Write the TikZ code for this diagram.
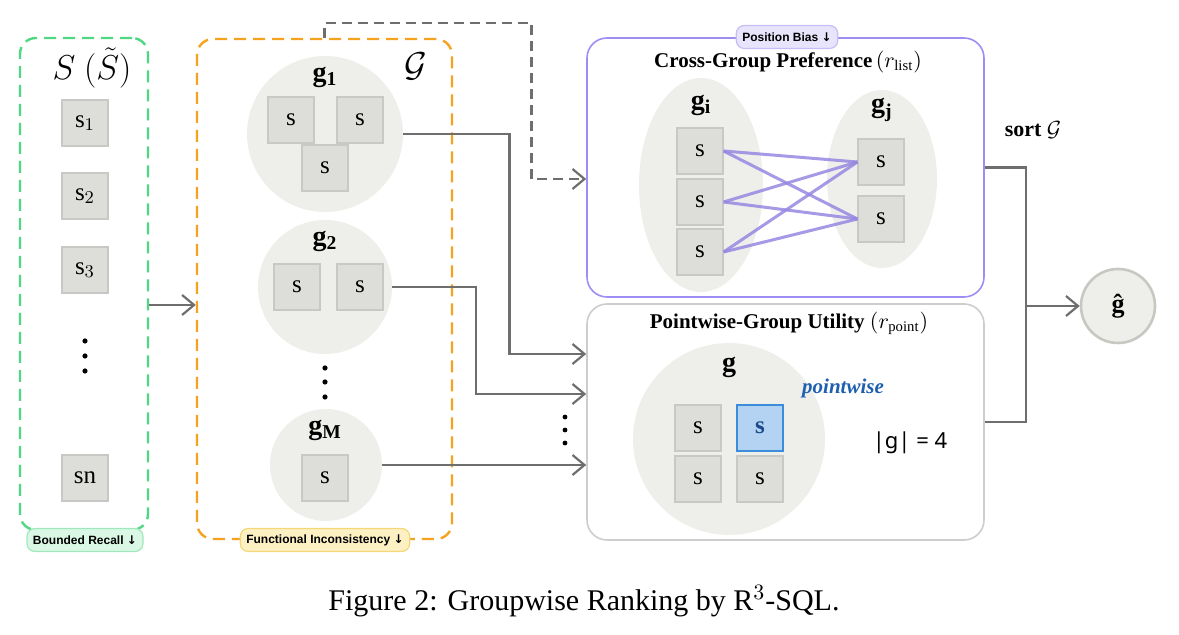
\documentclass[tikz,border=0pt]{standalone}
\usepackage{fontspec}
\setmainfont{Liberation Serif}
\newfontfamily\badgefont{Liberation Sans}
\newfontfamily\sizefont{Noto Sans}
\newfontfamily\arrowfont{DejaVu Sans}
\usetikzlibrary{shapes.geometric,arrows.meta,calc}

\definecolor{recallgreen}{RGB}{80,215,130}
\definecolor{recallfill}{RGB}{218,247,229}
\definecolor{recallline}{RGB}{160,232,188}
\definecolor{funcorange}{RGB}{245,162,30}
\definecolor{funcfill}{RGB}{253,241,196}
\definecolor{funcline}{RGB}{245,215,120}
\definecolor{biaspurple}{RGB}{160,140,245}
\definecolor{biasfill}{RGB}{232,228,252}
\definecolor{biasline}{RGB}{200,190,245}
\definecolor{pairpurple}{RGB}{150,135,225}
\definecolor{utilgray}{RGB}{205,205,205}
\definecolor{grpfill}{RGB}{238,238,234}
\definecolor{boxfill}{RGB}{221,221,217}
\definecolor{boxline}{RGB}{200,200,196}
\definecolor{flowgray}{RGB}{110,110,110}
\definecolor{pickfill}{RGB}{180,210,242}
\definecolor{pickline}{RGB}{60,140,220}
\definecolor{pickblue}{RGB}{25,75,140}
\definecolor{pointblue}{RGB}{30,95,175}
\definecolor{hatline}{RGB}{200,200,194}

\begin{document}
\begin{tikzpicture}[x=0.5pt, y=-0.5pt,
    sbox/.style={draw=boxline, fill=boxfill, line width=0.6pt, minimum size=23pt, inner sep=0pt, font=\fontsize{12.5}{12.5}\selectfont},
    grp/.style={circle, fill=grpfill, inner sep=0pt},
    glabel/.style={font=\bfseries\fontsize{14}{14}\selectfont},
    flow/.style={draw=flowgray, line width=1.1pt, -{Straight Barb[length=6pt,width=10pt]}},
    badge/.style={rounded corners=4pt, line width=0.6pt, minimum height=11.5pt, inner xsep=3pt, inner ysep=0pt, font=\badgefont\bfseries\fontsize{6}{6}\selectfont},
    title/.style={font=\bfseries\fontsize{10.5}{10.5}\selectfont},
    pair/.style={pairpurple, line width=1.5pt, opacity=0.85}]
    \useasboundingbox (0, 0) rectangle (1179, 635);

    %candidate set S
    \node at (84, 284) [draw=recallgreen, line width=1.2pt, dash pattern=on 6pt off 3.5pt, rounded corners=8pt, minimum width=64pt, minimum height=246pt] (recall) {};
    \node at (92, 68) [font=\fontsize{17}{17}\selectfont] (shead) {$S\ (\tilde{S})$};
    \node at (85, 123) [sbox] (s1) {$\mathrm{s}_1$};
    \node at (85, 196) [sbox] (s2) {$\mathrm{s}_2$};
    \node at (85, 270) [sbox] (s3) {$\mathrm{s}_3$};
    \node at (85, 478) [sbox] (sn) {$\mathrm{sn}$};
    \foreach \y in {341, 356, 371} \fill (85, \y) circle (1.3pt);
    \node at (85, 540) [badge, draw=recallline, fill=recallfill] (recallbadge) {Bounded Recall {\arrowfont ↓}};

    %groups G
    \node at (324.5, 289) [draw=funcorange, line width=1.2pt, dash pattern=on 6pt off 3.5pt, rounded corners=8pt, minimum width=127.5pt, minimum height=250pt] (orng) {};
    \node at (416, 66) [font=\fontsize{19}{19}\selectfont] (gcal) {$\mathcal{G}$};
    \node at (325, 134) [grp, minimum size=78pt] (g1) {};
    \node at (325, 77) [glabel] (g1lab) {g\textsubscript{1}};
    \node at (291, 120) [sbox] (g1a) {s};
    \node at (360, 120) [sbox] (g1b) {s};
    \node at (325, 168) [sbox] (g1c) {s};
    \node at (325, 287) [grp, minimum size=67pt] (g2) {};
    \node at (325, 241) [glabel] (g2lab) {g\textsubscript{2}};
    \node at (297, 287) [sbox] (g2a) {s};
    \node at (360, 287) [sbox] (g2b) {s};
    \foreach \y in {368, 382, 397} \fill (325, \y) circle (1.3pt);
    \node at (326, 465) [grp, minimum size=56pt] (gM) {};
    \node at (325, 430) [glabel] (gMlab) {g\textsubscript{M}};
    \node at (325, 478) [sbox] (gMa) {s};
    \node at (325, 540) [badge, draw=funcline, fill=funcfill] (funcbadge) {Functional Inconsistency {\arrowfont ↓}};

    %cross-group preference
    \node at (785.5, 167.5) [draw=biaspurple, line width=0.8pt, rounded corners=10pt, minimum width=198.5pt, minimum height=129.5pt] (cgp) {};
    \node at (787, 37) [badge, draw=biasline, fill=biasfill] (biasbadge) {Position Bias {\arrowfont ↓}};
    \node at (788, 62) [title] (cgptitle) {Cross-Group Preference\,$(r_{\mathrm{list}})$};
    \node at (701, 185) [ellipse, fill=grpfill, inner sep=0pt, minimum width=62pt, minimum height=107pt] (gi) {};
    \node at (701, 105) [glabel] (gilab) {g\textsubscript{i}};
    \node at (700, 151) [sbox] (gi1) {s};
    \node at (700, 202) [sbox] (gi2) {s};
    \node at (700, 252) [sbox] (gi3) {s};
    \node at (882, 179) [ellipse, fill=grpfill, inner sep=0pt, minimum width=55pt, minimum height=89pt] (gj) {};
    \node at (882, 110) [glabel] (gjlab) {g\textsubscript{j}};
    \node at (881, 162) [sbox] (gj1) {s};
    \node at (881, 219) [sbox] (gj2) {s};
    \foreach \a in {gi1, gi2, gi3}
        \foreach \b in {gj1, gj2}
            \draw [pair] (\a.east) -- (\b.west);

    %pointwise-group utility
    \node at (785.5, 422) [draw=utilgray, line width=0.8pt, rounded corners=10pt, minimum width=198.5pt, minimum height=118pt] (pgu) {};
    \node at (789, 323) [title] (pgutitle) {Pointwise-Group Utility $(r_{\mathrm{point}})$};
    \node at (729, 439) [grp, minimum size=96pt] (gpt) {};
    \node at (729, 367) [glabel] (gptlab) {g};
    \node at (843, 388) [font=\bfseries\itshape\fontsize{10.5}{10.5}\selectfont, text=pointblue] (pwlab) {pointwise};
    \node at (698, 428) [sbox] (p1) {s};
    \node at (760, 428) [sbox, draw=pickline, fill=pickfill, line width=0.9pt, text=pickblue, font=\bfseries\fontsize{12.5}{12.5}\selectfont] (p2) {s};
    \node at (698, 479) [sbox] (p3) {s};
    \node at (760, 479) [sbox] (p4) {s};
    \node at (910, 443) [font=\sizefont\fontsize{11}{11}\selectfont] (gsize) {|g| = 4};

    %output
    \node at (1118, 306) [circle, fill=grpfill, draw=hatline, line width=1.3pt, minimum size=37pt, inner sep=0pt, font=\bfseries\fontsize{13}{13}\selectfont] (ghat) {ĝ};
    \node at (1033, 130) [font=\bfseries\fontsize{11}{11}\selectfont] (sortlab) {sort $\mathcal{G}$};

    %Relations
    \coordinate (feed) at ($(recall.east)+(0,21)$);
    \draw [flow] (feed) -- (feed -| orng.west);
    \draw [flow, dash pattern=on 5pt off 3pt] (orng.north) |- ++(207,-15) |- ($(cgp.west)+(0,11.5)$);
    \draw [flow] (g1.east) -- ++(106,0) |- ($(pgu.west)+(0,-68)$);
    \draw [flow] (g2.east) -- ++(83.5,0) |- ($(pgu.west)+(0,-28)$);
    \draw [flow] (gM.east) -- (pgu.west |- gM.east);
    \foreach \y in {417, 430, 443} \fill (565, \y) circle (1.2pt);
    \draw [draw=flowgray, line width=1.1pt] (cgp.east) -- ++(41,0) coordinate (join) |- (pgu.east);
    \draw [flow] (ghat.west -| join) -- (ghat.west);

    \node at (584, 601) [font=\fontsize{15}{15}\selectfont] (caption) {Figure 2: Groupwise Ranking by R$^{3}$-SQL.};
\end{tikzpicture}
\end{document}
